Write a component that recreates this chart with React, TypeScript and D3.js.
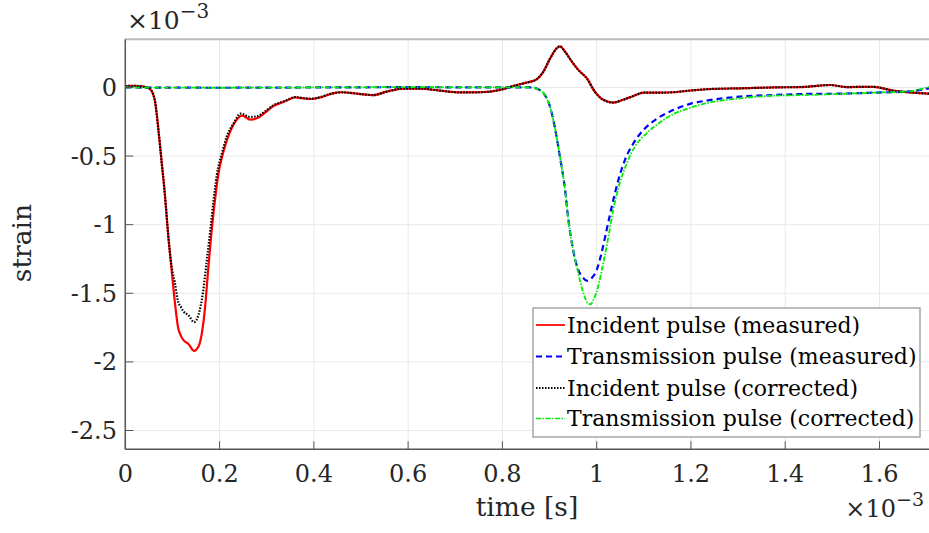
import React from "react";
import * as d3 from "d3";

// time values are in units of 1e-3 s, strain in units of 1e-3
const incMeasT = [0, 0.02, 0.035, 0.045, 0.052, 0.058, 0.063, 0.07, 0.077, 0.084, 0.091, 0.098, 0.105, 0.112, 0.118, 0.123, 0.134, 0.146, 0.155, 0.162, 0.169, 0.176, 0.183, 0.19, 0.197, 0.208, 0.218, 0.233, 0.248, 0.265, 0.279, 0.296, 0.314, 0.332, 0.346, 0.36, 0.374, 0.395, 0.416, 0.438, 0.459, 0.484, 0.51, 0.526, 0.555, 0.59, 0.625, 0.668, 0.71, 0.752, 0.795, 0.823, 0.851, 0.873, 0.887, 0.901, 0.915, 0.922, 0.933, 0.947, 0.961, 0.979, 0.996, 1.014, 1.035, 1.056, 1.078, 1.099, 1.134, 1.162, 1.2, 1.233, 1.304, 1.375, 1.445, 1.495, 1.53, 1.587, 1.629, 1.672, 1.705];
const incMeasS = [0.01, 0.012, 0.008, 0.0, -0.01, -0.04, -0.1, -0.3, -0.54, -0.78, -1.075, -1.32, -1.56, -1.75, -1.81, -1.84, -1.87, -1.92, -1.89, -1.8, -1.61, -1.32, -1.05, -0.83, -0.64, -0.47, -0.36, -0.25, -0.205, -0.235, -0.225, -0.185, -0.135, -0.11, -0.09, -0.072, -0.078, -0.084, -0.07, -0.045, -0.035, -0.042, -0.052, -0.056, -0.03, -0.008, -0.008, -0.023, -0.036, -0.035, -0.018, 0.011, 0.035, 0.06, 0.115, 0.21, 0.285, 0.3, 0.26, 0.19, 0.128, 0.067, -0.03, -0.09, -0.11, -0.09, -0.062, -0.038, -0.038, -0.035, -0.022, -0.013, -0.006, 0.0, 0.005, 0.018, 0.003, 0.005, -0.023, -0.038, -0.045];

const incCorrT = [0, 0.02, 0.035, 0.045, 0.052, 0.058, 0.063, 0.07, 0.077, 0.084, 0.091, 0.098, 0.105, 0.112, 0.118, 0.123, 0.134, 0.146, 0.155, 0.165, 0.1726, 0.18, 0.187, 0.194, 0.205, 0.215, 0.23, 0.245, 0.265, 0.279, 0.296, 0.314, 0.332, 0.346, 0.36, 0.374, 0.395, 0.416, 0.438, 0.459, 0.484, 0.51, 0.526, 0.555, 0.59, 0.625, 0.668, 0.71, 0.752, 0.795, 0.823, 0.851, 0.873, 0.887, 0.901, 0.915, 0.922, 0.933, 0.947, 0.961, 0.979, 0.996, 1.014, 1.035, 1.056, 1.078, 1.099, 1.134, 1.162, 1.2, 1.233, 1.304, 1.375, 1.445, 1.495, 1.53, 1.587, 1.629, 1.672, 1.705];
const incCorrS = [0.01, 0.012, 0.008, 0.0, -0.01, -0.04, -0.1, -0.3, -0.54, -0.78, -1.075, -1.3, -1.42, -1.56, -1.6, -1.63, -1.66, -1.71, -1.66, -1.49, -1.27, -1.05, -0.83, -0.64, -0.48, -0.36, -0.26, -0.19, -0.215, -0.21, -0.175, -0.13, -0.105, -0.088, -0.07, -0.076, -0.082, -0.068, -0.044, -0.035, -0.042, -0.052, -0.056, -0.03, -0.008, -0.008, -0.023, -0.036, -0.035, -0.018, 0.011, 0.035, 0.06, 0.115, 0.21, 0.285, 0.3, 0.26, 0.19, 0.128, 0.067, -0.03, -0.09, -0.11, -0.09, -0.062, -0.038, -0.038, -0.035, -0.022, -0.013, -0.006, 0.0, 0.005, 0.018, 0.003, 0.005, -0.023, -0.038, -0.045];

const trMeasT = [0, 0.2, 0.4, 0.6, 0.8, 0.86, 0.876, 0.89, 0.901, 0.911, 0.922, 0.933, 0.94, 0.95, 0.961, 0.972, 0.979, 0.989, 1.0, 1.01, 1.021, 1.032, 1.046, 1.06, 1.078, 1.099, 1.127, 1.162, 1.198, 1.233, 1.304, 1.375, 1.445, 1.516, 1.587, 1.658, 1.705];
const trMeasS = [0.0, -0.002, 0.0, 0.002, 0.0, 0.0, -0.013, -0.055, -0.14, -0.286, -0.504, -0.747, -0.966, -1.184, -1.33, -1.39, -1.408, -1.39, -1.33, -1.21, -1.04, -0.869, -0.674, -0.528, -0.407, -0.31, -0.23, -0.165, -0.12, -0.096, -0.067, -0.055, -0.047, -0.045, -0.038, -0.03, -0.006];

const trCorrT = [0, 0.2, 0.4, 0.6, 0.8, 0.86, 0.876, 0.89, 0.901, 0.911, 0.922, 0.933, 0.94, 0.95, 0.961, 0.972, 0.982, 0.987, 0.993, 1.003, 1.014, 1.025, 1.035, 1.049, 1.064, 1.081, 1.106, 1.134, 1.162, 1.198, 1.233, 1.304, 1.375, 1.445, 1.516, 1.587, 1.658, 1.705];
const trCorrS = [0.0, -0.002, 0.0, 0.002, 0.0, 0.0, -0.013, -0.055, -0.14, -0.286, -0.504, -0.747, -0.966, -1.184, -1.354, -1.5, -1.575, -1.58, -1.549, -1.452, -1.28, -1.087, -0.893, -0.698, -0.552, -0.431, -0.334, -0.255, -0.195, -0.148, -0.115, -0.079, -0.06, -0.055, -0.047, -0.038, -0.03, 0.005];

const xTicks = [0, 0.2, 0.4, 0.6, 0.8, 1, 1.2, 1.4, 1.6];
const xTickLabels = ["0", "0.2", "0.4", "0.6", "0.8", "1", "1.2", "1.4", "1.6"];
const yTicks = [0, -0.5, -1, -1.5, -2, -2.5];
const yTickLabels = ["0", "-0.5", "-1", "-1.5", "-2", "-2.5"];

const seriesNames = [
  "Incident pulse (measured)",
  "Transmission pulse (measured)",
  "Incident pulse (corrected)",
  "Transmission pulse (corrected)",
];

const FONT = "'DejaVu Serif', serif";

export default function App() {
  const W = 929, H = 533;
  const x = d3.scaleLinear().domain([0, 1.705]).range([125.3, 929]);
  const y = d3.scaleLinear().domain([0.351, -2.637]).range([39.3, 449.3]);
  const left = x(0), right = x(1.705), top = y(0.351), bottom = y(-2.637);

  const mk = (t: number[], s: number[]) =>
    d3.line<number>().x((_, i) => x(t[i])).y((v) => y(v)).curve(d3.curveMonotoneX)(s) || "";

  const styles = [
    { stroke: "#ff0000", width: 2.2, dash: "" },
    { stroke: "#0000ff", width: 2.2, dash: "6,4" },
    { stroke: "#000000", width: 2.2, dash: "1.5,1.5" },
    { stroke: "#00ee00", width: 1.8, dash: "5,1.5,1.5,1.5" },
  ];
  const paths = [
    mk(incMeasT, incMeasS),
    mk(trMeasT, trMeasS),
    mk(incCorrT, incCorrS),
    mk(trCorrT, trCorrS),
  ];

  const lg = { x: 533, y: 308, w: 387, h: 129 };
  const rowY = [325, 356.5, 388, 418.5];

  return (
    <svg width={W} height={H} style={{ position: "absolute", left: 0, top: 0, background: "#fff" }}
      fontFamily={FONT}>
      <defs>
        <clipPath id="plotclip">
          <rect x={left} y={top} width={right - left} height={bottom - top} />
        </clipPath>
      </defs>
      <rect x={0} y={0} width={W} height={H} fill="#fff" />
      {xTicks.map((t) => (
        <line key={"gx" + t} x1={x(t)} x2={x(t)} y1={top} y2={bottom} stroke="#e8e8e8" strokeWidth={1} />
      ))}
      {yTicks.map((t) => (
        <line key={"gy" + t} x1={left} x2={right} y1={y(t)} y2={y(t)} stroke="#e8e8e8" strokeWidth={1} />
      ))}
      <g clipPath="url(#plotclip)">
        {paths.map((p, i) => (
          <path key={i} d={p} fill="none" stroke={styles[i].stroke} strokeWidth={styles[i].width}
            strokeDasharray={styles[i].dash || undefined} strokeLinejoin="round" />
        ))}
      </g>
      <line x1={left} x2={right} y1={top} y2={top} stroke="#bdbdbd" strokeWidth={2} />
      <line x1={left} x2={left} y1={top} y2={bottom} stroke="#555" strokeWidth={1.5} />
      <line x1={left} x2={right} y1={bottom} y2={bottom} stroke="#555" strokeWidth={1.5} />
      {xTicks.map((t) => (
        <line key={"tx" + t} x1={x(t)} x2={x(t)} y1={bottom} y2={bottom - 8} stroke="#555" strokeWidth={1} />
      ))}
      {yTicks.map((t) => (
        <line key={"ty" + t} x1={left} x2={left + 8} y1={y(t)} y2={y(t)} stroke="#555" strokeWidth={1} />
      ))}
      {xTicks.map((t, i) => (
        <text key={"lx" + t} x={x(t)} y={482} textAnchor="middle" fontSize={24} fill="#262626">
          {xTickLabels[i]}
        </text>
      ))}
      {yTicks.map((t, i) => (
        <text key={"ly" + t} x={117} y={y(t) + 8.5} textAnchor="end" fontSize={24} fill="#262626">
          {yTickLabels[i]}
        </text>
      ))}
      <text x={127} y={29} fontSize={25} fill="#262626">
        ×10<tspan dy={-11} fontSize={20}>−3</tspan>
      </text>
      <text x={924} y={517} textAnchor="end" fontSize={24} fill="#262626">
        ×10<tspan dy={-11} fontSize={19}>−3</tspan>
      </text>
      <text x={527} y={516} textAnchor="middle" fontSize={26.5} fill="#262626">time [s]</text>
      <text transform="translate(31,243) rotate(-90)" textAnchor="middle" fontSize={26.5} fill="#262626">strain</text>
      <rect x={lg.x} y={lg.y} width={lg.w} height={lg.h} fill="#fff" stroke="#a6a6a6" strokeWidth={1.5} />
      {seriesNames.map((n, i) => (
        <g key={n}>
          <line x1={536} x2={565} y1={rowY[i]} y2={rowY[i]} stroke={styles[i].stroke}
            strokeWidth={styles[i].width * 0.8} strokeDasharray={styles[i].dash || undefined} />
          <text x={567} y={rowY[i] + 7.5} fontSize={22} fill="#000">{n}</text>
        </g>
      ))}
    </svg>
  );
}
